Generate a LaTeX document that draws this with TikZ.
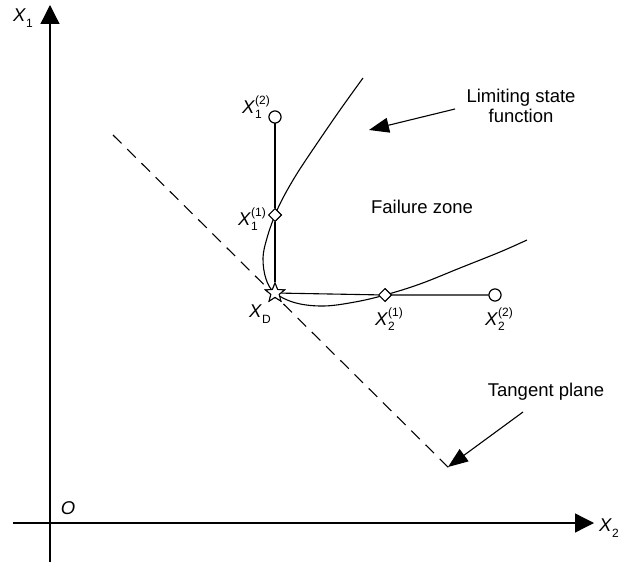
\documentclass[tikz,border=0pt]{standalone}
\usepackage{fontspec}
\setmainfont{Liberation Sans}
\usetikzlibrary{arrows.meta,shapes.geometric}
\newcommand{\Xss}[2]{\textit{X}\rlap{\raisebox{-0.3em}{\fontsize{12}{12}\selectfont #1}}\raisebox{0.48em}{\fontsize{12}{12}\selectfont #2}}
\newcommand{\Xs}[1]{\textit{X}\raisebox{-0.3em}{\fontsize{12}{12}\selectfont #1}}
\begin{document}
\begin{tikzpicture}[x=1pt,y=-1pt,
  lbl/.style={font=\fontsize{18.5}{20}\selectfont, inner sep=0pt},
  txt/.style={font=\fontsize{18.5}{20}\selectfont, align=center, inner sep=0pt},
  axis/.style={line width=1.3pt, -{Triangle[length=19pt,width=19pt]}},
  pointer/.style={line width=1.1pt, -{Triangle[length=20pt,width=15pt]}},
  ring/.style={circle, draw, fill=white, minimum size=12pt, inner sep=0pt, line width=1pt},
  dia/.style={diamond, draw, fill=white, minimum size=13pt, inner sep=0pt, line width=1pt},
  starmk/.style={star, star points=5, star point ratio=2.3, draw, fill=white, minimum size=20pt, inner sep=0pt, line width=1pt},
  ln/.style={line width=1.1pt}]
\useasboundingbox (0,0) rectangle (629,564);
% axes
\coordinate (ybot) at (50,562);
\coordinate (ytop) at (50,5);
\coordinate (xl) at (13,523);
\coordinate (xr) at (594,523);
\draw[axis] (ybot) -- (ytop);
\draw[axis] (xl) -- (xr);
\node[lbl] (lx1) at (23,18) {\Xs{1}};
\node[lbl] (lx2) at (609,528) {\Xs{2}};
\node[lbl] (lo) at (68,508) {\textit{O}};
% tangent plane (dashed)
\coordinate (t1) at (113,135);
\coordinate (t2) at (452,471);
\draw[ln, dash pattern=on 12pt off 8pt] (t1) -- (t2);
% limiting state curve
\draw[ln] plot[smooth, tension=0.6] coordinates {
  (363,78) (340,110) (318,142) (298,172) (284,196) (275,215) (267,238) (263,258) (266,279) (275,293)
  (296,303) (324,306) (355,302) (385,295) (420,284) (460,268) (500,252) (527,240)};
% connectors between markers
\node[starmk] (xd) at (275,293) {};
\node[ring] (c1) at (275,117) {};
\node[dia] (d1) at (275,215) {};
\node[dia] (d2) at (385,295) {};
\node[ring] (c2) at (495,295) {};
\draw[ln] (c1) -- (d1) -- (xd);
\draw[ln] (xd) -- (d2) -- (c2);
% markers on top
\node[starmk] at (275,293) {};
\node[ring] at (275,117) {};
\node[dia] at (275,215) {};
\node[dia] at (385,295) {};
\node[ring] at (495,295) {};
% labels
\node[lbl] (l12) at (256,107) {\Xss{1}{(2)}};
\node[lbl] (l11) at (252,219) {\Xss{1}{(1)}};
\node[lbl] (lxd) at (260,314) {\Xs{D}};
\node[lbl] (l21) at (389,319) {\Xss{2}{(1)}};
\node[lbl] (l22) at (499,319) {\Xss{2}{(2)}};
% texts
\node[txt] (lim) at (521,106) {Limiting state\\function};
\node[txt] (fz) at (422,207) {Failure zone};
\node[txt] (tp) at (546,392) {Tangent plane};
\coordinate (a1s) at (455,109);
\coordinate (a1e) at (369,130);
\coordinate (a2s) at (523,412);
\coordinate (a2e) at (448,467);
\draw[pointer] (a1s) -- (a1e);
\draw[pointer] (a2s) -- (a2e);
\end{tikzpicture}
\end{document}
